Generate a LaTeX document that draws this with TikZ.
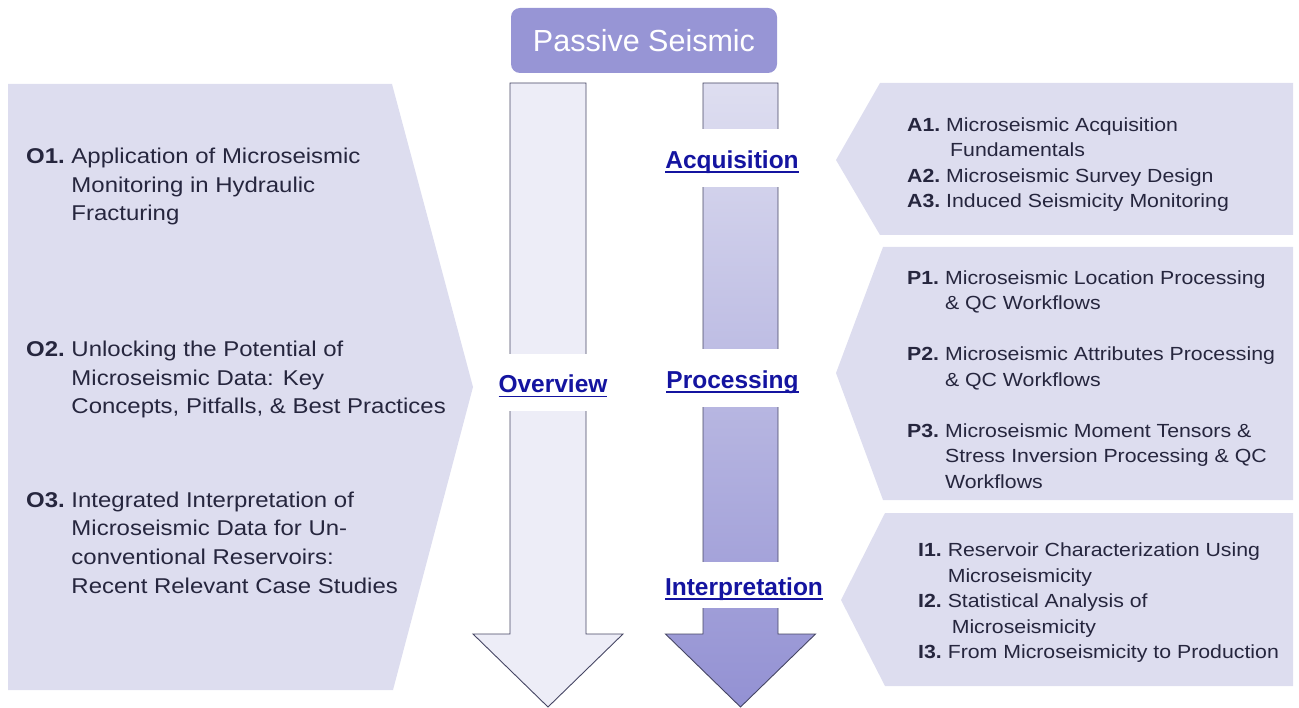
\documentclass[tikz,border=0pt]{standalone}
\usepackage{fontspec}
\setmainfont{Liberation Sans}
\newfontfamily\bodyfont{Liberation Sans}[FakeStretch=1.12]

\definecolor{panelfill}{RGB}{221,221,239}
\definecolor{titlefill}{RGB}{151,149,213}
\definecolor{shaftlight}{RGB}{237,237,247}
\definecolor{shadetop}{RGB}{222,222,240}
\definecolor{shadebot}{RGB}{147,145,211}
\definecolor{linkblue}{RGB}{20,20,160}
\definecolor{bodytext}{RGB}{38,38,62}
\definecolor{arrowline}{RGB}{70,70,100}

% underlined stage label with a fixed rule position
\newsavebox\stagebox
\newcommand{\ulabel}[1]{\sbox\stagebox{#1}\rlap{\rule[-4.5pt]{\wd\stagebox}{1.8pt}}\usebox\stagebox}

\tikzset{
  panel/.style={fill=panelfill},
  arrowbody/.style={draw=arrowline, line width=0.9pt, line join=miter},
  titlebox/.style={fill=titlefill, rounded corners=9pt, minimum width=266pt,
    minimum height=65pt, text=white, font=\fontsize{30.5}{36}\selectfont},
  stagelabel/.style={fill=white, inner xsep=2pt, inner ysep=0pt,
    text height=20.6pt, text depth=0pt, text=linkblue,
    font=\fontsize{24.5}{28}\selectfont\bfseries},
  leftitem/.style={anchor=west, inner sep=0pt, text=bodytext,
    font=\bodyfont\fontsize{21.4}{28.7}\selectfont},
  rightitem/.style={anchor=west, inner sep=0pt, text=bodytext,
    font=\bodyfont\fontsize{19}{25.5}\selectfont},
}

\begin{document}
\begin{tikzpicture}[x=1pt,y=-1pt]
\useasboundingbox (0,0) rectangle (1299,708);

% side panels
\fill[panel] (8,84) -- (392,84) -- (473,387) -- (393,690) -- (8,690) -- cycle;
\fill[panel] (880,83) -- (1293,83) -- (1293,235) -- (880,235) -- (836,160) -- cycle;
\fill[panel] (883,247) -- (1293,247) -- (1293,500) -- (883,500) -- (836,373) -- cycle;
\fill[panel] (885,513) -- (1293,513) -- (1293,686) -- (885,686) -- (841,600) -- cycle;

% title
\node[titlebox] (title) at (644,40.5) {Passive Seismic};

% downward arrows
\draw[arrowbody, fill=shaftlight] (510,83) -- (586,83) -- (586,634) -- (623,634)
  -- (548,707) -- (473,634) -- (510,634) -- cycle;
\draw[arrowbody, top color=shadetop, bottom color=shadebot] (703,83) -- (778,83)
  -- (778,634) -- (815.5,634) -- (740.5,707) -- (665.5,634) -- (703,634) -- cycle;

% stage labels
\node[stagelabel, minimum height=57pt] (overview) at (553,382.5) {\ulabel{Overview}};
\node[stagelabel, minimum height=58pt] (acquisition) at (732,158) {\ulabel{Acquisition}};
\node[stagelabel, minimum height=58pt] (processing) at (732.5,378) {\ulabel{Processing}};
\node[stagelabel, minimum height=46pt] (interpretation) at (744,585) {\ulabel{Interpretation}};

% overview topics
\node[leftitem] (o1) at (26,186.5) {\begin{tabular}{@{}l@{\ }l@{}}
  \textbf{O1.} & Application of Microseismic\\
  & Monitoring in Hydraulic\\
  & Fracturing\end{tabular}};
\node[leftitem] (o2) at (26,379.5) {\begin{tabular}{@{}l@{\ }l@{}}
  \textbf{O2.} & Unlocking the Potential of\\
  & Microseismic Data: Key\\
  & Concepts, Pitfalls, \& Best Practices\end{tabular}};
\node[leftitem] (o3) at (26,544.5) {\begin{tabular}{@{}l@{\ }l@{}}
  \textbf{O3.} & Integrated Interpretation of\\
  & Microseismic Data for Un-\\
  & conventional Reservoirs:\\
  & Recent Relevant Case Studies\end{tabular}};

% acquisition topics
\node[rightitem] (acqlist) at (907,164.5) {\begin{tabular}{@{}l@{\ }l@{}}
  \textbf{A1.} & Microseismic Acquisition\\
  & \hspace{4pt}Fundamentals\\
  \textbf{A2.} & Microseismic Survey Design\\
  \textbf{A3.} & Induced Seismicity Monitoring\end{tabular}};

% processing topics
\node[rightitem] (proclist) at (907,381) {\begin{tabular}{@{}l@{\ }l@{}}
  \textbf{P1.} & Microseismic Location Processing\\
  & \& QC Workflows\\
  & \\
  \textbf{P2.} & Microseismic Attributes Processing\\
  & \& QC Workflows\\
  & \\
  \textbf{P3.} & Microseismic Moment Tensors \&\\
  & Stress Inversion Processing \& QC\\
  & Workflows\end{tabular}};

% interpretation topics
\node[rightitem] (interplist) at (918,602.5) {\begin{tabular}{@{}l@{\ }l@{}}
  \textbf{I1.} & Reservoir Characterization Using\\
  & Microseismicity\\
  \textbf{I2.} & Statistical Analysis of\\
  & \hspace{4pt}Microseismicity\\
  \textbf{I3.} & From Microseismicity to Production\end{tabular}};
\end{tikzpicture}
\end{document}
